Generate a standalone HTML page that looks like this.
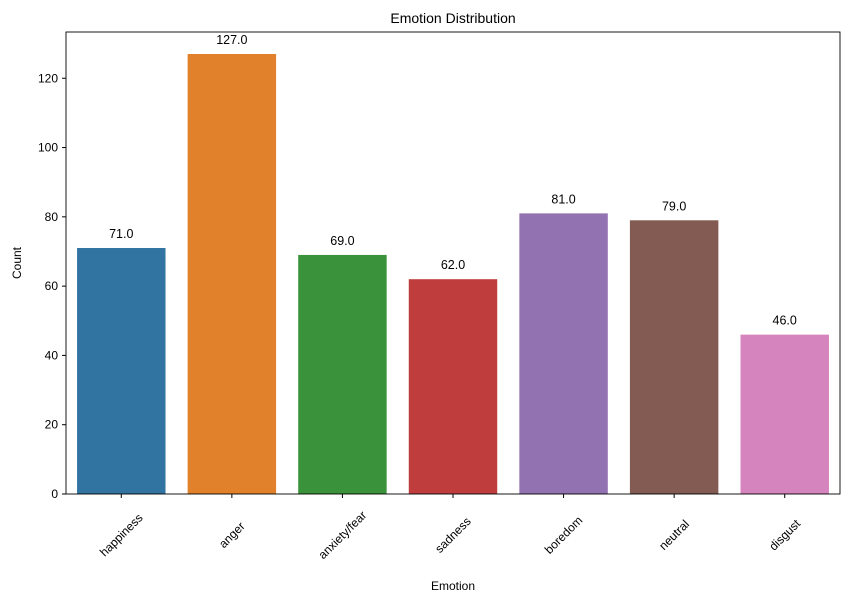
<!DOCTYPE html>
<html><head><meta charset="utf-8"><style>
body{margin:0;background:#fff}
svg{display:block;font-family:"Liberation Sans","DejaVu Sans",sans-serif}
</style></head><body>
<svg id="chart" width="850" height="603">
<text x="453" y="23" text-anchor="middle" font-size="14">Emotion Distribution</text>
<text x="453" y="590" text-anchor="middle" font-size="12">Emotion</text>
<text x="21" y="263" text-anchor="middle" font-size="12" transform="rotate(-90,21,263)">Count</text>
<g id="bars"></g><g id="axes"></g>
</svg>
<script>
const categories=["happiness","anger","anxiety/fear","sadness","boredom","neutral","disgust"];
const counts=[71,127,69,62,81,79,46];
const colors=["#3274a1","#e1812c","#3a923a","#c03d3e","#9372b2","#845b53","#d684bd"];
const yTicks=[0,20,40,60,80,100,120];
const L=66,R=840,T=32,B=494;
const yMax=Math.max(...counts)*1.05;
const y=v=>B-(v/yMax)*(B-T);
const band=(R-L)/categories.length;
const x=i=>L+band*(i+0.5);
const NS="http://www.w3.org/2000/svg";
function mk(tag,attrs,parent){const e=document.createElementNS(NS,tag);for(const k in attrs)e.setAttribute(k,attrs[k]);parent.appendChild(e);return e;}
const bars=document.getElementById('bars'),axes=document.getElementById('axes');
categories.forEach((c,i)=>{
  const w=band*0.8;
  const r=mk('rect',{x:x(i)-w/2,y:y(counts[i]),width:w,height:B-y(counts[i]),fill:colors[i]},bars);
  
  
  const t=mk('text',{x:x(i),y:y(counts[i])-10,'text-anchor':'middle','font-size':'12.5'},bars);
  t.textContent=counts[i].toFixed(1);
  
  
  const tk=mk('line',{x1:x(i),x2:x(i),y1:B,y2:B+4,stroke:'#000'},axes);
  
  
  const lx=x(i),ly=B+41;
  const lb=mk('text',{x:lx,y:ly,'text-anchor':'middle','dominant-baseline':'central','font-size':'12',transform:`rotate(-45,${lx},${ly})`},axes);
  lb.textContent=c;
  
  
});
yTicks.forEach(v=>{
  const tk=mk('line',{x1:L-4,x2:L,y1:y(v),y2:y(v),stroke:'#000'},axes);
  
  
  const t=mk('text',{x:L-8,y:y(v)+4,'text-anchor':'end','font-size':'12'},axes);
  t.textContent=v;
  
  
});
const f=mk('rect',{x:L,y:T,width:R-L,height:B-T,fill:'none',stroke:'#000','stroke-width':0.9},axes);


</script>
</body></html>
